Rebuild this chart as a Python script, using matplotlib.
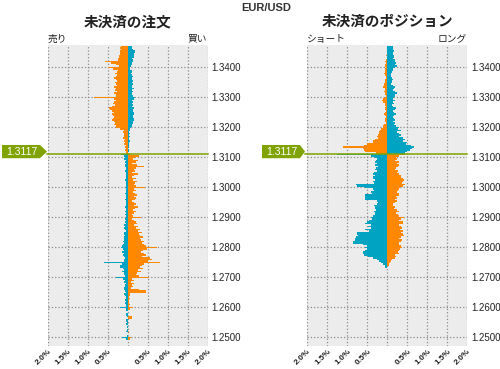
import numpy as np
import matplotlib.pyplot as plt
from matplotlib.patches import Polygon

plt.rcParams['font.family'] = ['Liberation Sans', 'Noto Sans CJK JP']

# order book, % per 0.0005 bucket, listed top -> bottom
# "hi" = buckets above the current price line, "lo" = below it
ord_orange_hi = [0.17, 0.18, 0.17, 0.19, 0.20, 0.18, 0.22, 0.21, 0.24, 0.23,
                 0.57, 0.42, 0.30, 0.22, 0.48, 0.36, 0.25, 0.27, 0.31, 0.26,
                 0.30, 0.33, 0.28, 0.26, 0.32, 0.30, 0.27, 0.35, 0.29, 0.31,
                 0.27, 0.33, 0.30, 0.28, 0.84, 0.35, 0.30, 0.33, 0.36, 0.31,
                 0.38, 0.46, 0.44, 0.38, 0.35, 0.40, 0.37, 0.33, 0.36, 0.39,
                 0.34, 0.31, 0.33, 0.30, 0.29, 0.18, 0.10, 0.11, 0.09, 0.10,
                 0.08, 0.11, 0.07, 0.09, 0.06, 0.08, 0.05, 0.07, 0.04, 0.06,
                 0.05, 0.03]
ord_teal_hi = [0.10, 0.12, 0.14, 0.18, 0.19, 0.17, 0.15, 0.16, 0.12, 0.14,
               0.13, 0.11, 0.10, 0.08, 0.05, 0.06, 0.10, 0.12, 0.09, 0.11,
               0.13, 0.10, 0.12, 0.14, 0.11, 0.13, 0.10, 0.12, 0.15, 0.11,
               0.13, 0.12, 0.10, 0.14, 0.19, 0.16, 0.12, 0.13, 0.11, 0.14,
               0.12, 0.15, 0.13, 0.14, 0.16, 0.15, 0.13, 0.14, 0.16, 0.15,
               0.14, 0.13, 0.12, 0.10, 0.08, 0.06, 0.05, 0.04, 0.05, 0.04,
               0.05, 0.03, 0.04, 0.05, 0.03, 0.04, 0.03, 0.04, 0.02, 0.03,
               0.03, 0.02]
ord_orange_lo = [0.05, 0.29, 0.18, 0.14, 0.25, 0.20, 0.12, 0.24,
                 0.40, 0.22, 0.15, 0.19, 0.12, 0.26, 0.17, 0.10,
                 0.20, 0.14, 0.23, 0.18, 0.16, 0.21, 0.44, 0.15,
                 0.20, 0.13, 0.18, 0.24, 0.16, 0.22, 0.19, 0.12,
                 0.17, 0.21, 0.15, 0.25, 0.18, 0.14, 0.20, 0.16,
                 0.10, 0.13, 0.33, 0.12, 0.15, 0.20, 0.24, 0.17,
                 0.27, 0.22, 0.30, 0.25, 0.36, 0.28, 0.32, 0.38,
                 0.30, 0.34, 0.42, 0.36, 0.40, 0.45, 0.73, 0.48,
                 0.38, 0.33, 0.40, 0.45, 0.36, 0.55, 0.62, 0.50,
                 0.81, 0.42, 0.36, 0.30, 0.38, 0.27, 0.33, 0.24,
                 0.20, 0.28, 0.54, 0.12, 0.15, 0.09, 0.17, 0.11,
                 0.13, 0.08, 0.28, 0.46, 0.45, 0.06, 0.05, 0.04,
                 0.05, 0.03, 0.04, 0.03, 0.05, 0.03, 0.13, 0.06,
                 0.00, 0.00, 0.00, 0.00, 0.11, 0.10, 0.00, 0.02,
                 0.00, 0.01, 0.00, 0.00, 0.00, 0.02, 0.04, 0.00,
                 0.00, 0.02, 0.09, 0.06, 0.00, 0.00, 0.00, 0.00]
ord_teal_lo = [0.16, 0.10, 0.06, 0.08, 0.05, 0.07, 0.04, 0.06,
               0.07, 0.05, 0.04, 0.06, 0.05, 0.03, 0.04, 0.05,
               0.04, 0.06, 0.05, 0.03, 0.04, 0.05, 0.06, 0.04,
               0.05, 0.04, 0.06, 0.03, 0.05, 0.04, 0.06, 0.05,
               0.04, 0.05, 0.03, 0.06, 0.04, 0.05, 0.07, 0.05,
               0.06, 0.04, 0.05, 0.07, 0.04, 0.06, 0.05, 0.08,
               0.06, 0.09, 0.07, 0.05, 0.08, 0.10, 0.07, 0.09,
               0.10, 0.08, 0.12, 0.09, 0.11, 0.14, 0.17, 0.12,
               0.10, 0.13, 0.08, 0.11, 0.09, 0.07, 0.10, 0.08,
               0.59, 0.15, 0.20, 0.18, 0.12, 0.10, 0.13, 0.08,
               0.10, 0.07, 0.30, 0.12, 0.06, 0.08, 0.05, 0.07,
               0.06, 0.08, 0.10, 0.07, 0.05, 0.09, 0.06, 0.04,
               0.05, 0.07, 0.04, 0.06, 0.05, 0.04, 0.19, 0.05,
               0.03, 0.00, 0.03, 0.03, 0.02, 0.00, 0.03, 0.03,
               0.02, 0.03, 0.00, 0.02, 0.00, 0.02, 0.03, 0.00,
               0.00, 0.02, 0.14, 0.05, 0.00, 0.00, 0.00, 0.00]

# open positions
pos_orange_hi = [0.00, 0.00, 0.00, 0.00, 0.00, 0.00, 0.04, 0.00,
                 0.02, 0.03, 0.05, 0.04, 0.06, 0.05, 0.04, 0.06,
                 0.07, 0.06, 0.08, 0.05, 0.04, 0.03, 0.06, 0.05,
                 0.07, 0.08, 0.09, 0.10, 0.07, 0.06, 0.08, 0.05,
                 0.06, 0.04, 0.07, 0.12, 0.14, 0.11, 0.06, 0.05,
                 0.04, 0.06, 0.05, 0.03, 0.07, 0.08, 0.06, 0.04,
                 0.05, 0.07, 0.06, 0.04, 0.08, 0.10, 0.12, 0.15,
                 0.19, 0.22, 0.20, 0.24, 0.27, 0.23, 0.30, 0.36,
                 0.36, 0.50, 0.58, 1.10, 0.62, 0.58, 0.55, 0.28]
pos_teal_hi = [0.14, 0.15, 0.13, 0.16, 0.15, 0.14, 0.17, 0.16,
               0.15, 0.18, 0.19, 0.21, 0.20, 0.23, 0.18, 0.14,
               0.13, 0.11, 0.09, 0.08, 0.10, 0.12, 0.14, 0.11,
               0.12, 0.10, 0.15, 0.20, 0.17, 0.14, 0.18, 0.23,
               0.20, 0.18, 0.16, 0.15, 0.19, 0.14, 0.17, 0.12,
               0.15, 0.22, 0.18, 0.13, 0.16, 0.21, 0.17, 0.14,
               0.16, 0.19, 0.15, 0.20, 0.17, 0.22, 0.30, 0.26,
               0.33, 0.25, 0.28, 0.35, 0.30, 0.38, 0.44, 0.40,
               0.50, 0.46, 0.58, 0.67, 0.62, 0.56, 0.50, 0.45]
pos_orange_lo = [0.44, 0.30, 0.22, 0.25, 0.20, 0.28, 0.24, 0.30,
                 0.26, 0.22, 0.20, 0.27, 0.25, 0.30, 0.33, 0.35,
                 0.40, 0.42, 0.38, 0.36, 0.43, 0.38, 0.32, 0.28,
                 0.27, 0.25, 0.30, 0.28, 0.22, 0.25, 0.20, 0.24,
                 0.18, 0.15, 0.13, 0.20, 0.17, 0.25, 0.28, 0.22,
                 0.26, 0.30, 0.41, 0.35, 0.30, 0.40, 0.38, 0.28,
                 0.33, 0.37, 0.32, 0.40, 0.35, 0.38, 0.42, 0.34,
                 0.30, 0.36, 0.33, 0.30, 0.28, 0.35, 0.37, 0.32,
                 0.29, 0.26, 0.30, 0.20, 0.22, 0.18, 0.12, 0.10,
                 0.06, 0.05, 0.03, 0.00, 0.00, 0.00, 0.00, 0.00]
pos_teal_lo = [1.25, 0.40, 0.30, 0.25, 0.28, 0.32, 0.27, 0.30,
               0.23, 0.28, 0.31, 0.26, 0.33, 0.35, 0.30, 0.36,
               0.35, 0.32, 0.36, 0.33, 0.79, 0.77, 0.55, 0.36,
               0.33, 0.40, 0.38, 0.57, 0.56, 0.57, 0.55, 0.27,
               0.23, 0.25, 0.33, 0.30, 0.31, 0.28, 0.34, 0.30,
               0.32, 0.35, 0.42, 0.38, 0.45, 0.50, 0.55, 0.40,
               0.48, 0.42, 0.55, 0.46, 0.76, 0.77, 0.74, 0.79,
               0.80, 0.82, 0.85, 0.87, 0.62, 0.50, 0.55, 0.52,
               0.57, 0.60, 0.60, 0.58, 0.48, 0.35, 0.25, 0.20,
               0.15, 0.10, 0.06, 0.05, 0.00, 0.00, 0.00, 0.00]

price_ticks = [1.25, 1.26, 1.27, 1.28, 1.29, 1.30, 1.31, 1.32, 1.33, 1.34]
pct_ticks = [-2.0, -1.5, -1.0, -0.5, 0.0, 0.5, 1.0, 1.5, 2.0]
pct_labels = ['2.0%', '1.5%', '1.0%', '0.5%', '', '0.5%', '1.0%', '1.5%', '2.0%']

step = 0.0005
line_price = 1.3110
last_price = 1.3117

orange = '#ff8800'
teal = '#00a3c2'
green = '#7fa300'
txt = '#222222'

fig = plt.figure(figsize=(5, 3.69), dpi=100)
fig.text(0.532, 1 - 8 / 369, 'EUR/USD', ha='center', va='center',
         fontsize=8, weight='bold', color='#333333')


def panel(left, title, lab_l, lab_r, or_hi, te_hi, or_lo, te_lo, box_x):
    ax = fig.add_axes([left, 0.0631, 0.32, 0.8157])
    ax.set_facecolor('#ececec')
    hi = line_price + step * np.arange(len(or_hi))[::-1]
    lo = line_price - step * np.arange(1, len(or_lo) + 1)
    kw = dict(height=step, align='edge', lw=0, antialiased=False)
    ax.barh(hi, -np.array(or_hi), color=orange, **kw)
    ax.barh(hi, te_hi, color=teal, **kw)
    ax.barh(lo, or_lo, color=orange, **kw)
    ax.barh(lo, -np.array(te_lo), color=teal, **kw)

    ax.set_xlim(-2, 2)
    ax.set_ylim(1.24708, 1.34728)
    for s in ax.spines.values():
        s.set_visible(False)
    ax.set_axisbelow(True)
    ax.grid(True, ls=':', color='#8c8c8c', lw=0.9)

    ax.set_xticks(pct_ticks)
    ax.set_xticklabels(pct_labels, rotation=45, ha='right', va='top',
                       rotation_mode='anchor', fontsize=6, weight='bold',
                       color=txt)
    ax.yaxis.tick_right()
    ax.set_yticks(price_ticks)
    ax.set_yticklabels(['%.4f' % p for p in price_ticks], fontsize=7, color=txt)
    ax.tick_params(length=0)
    ax.tick_params(axis='x', pad=1.5)
    ax.tick_params(axis='y', pad=3)

    ax.text(0, 1.004, lab_l, transform=ax.transAxes, ha='left', va='bottom',
            fontsize=7, color=txt)
    ax.text(1, 1.004, lab_r, transform=ax.transAxes, ha='right', va='bottom',
            fontsize=7, color=txt)
    fig.text(left + 0.16, 1 - 21 / 369, title, ha='center', va='center',
             fontsize=10.5, weight='bold', color=txt, family='Noto Sans CJK JP')

    # current price line and marker
    tr = ax.get_yaxis_transform()
    x0, x1, tip = box_x
    h = 0.0022
    ax.plot([tip, 1], [line_price, line_price], color=green, lw=1.1,
            transform=tr, clip_on=False)
    ax.add_patch(Polygon([(x0, last_price - h), (x1, last_price - h),
                          (tip, last_price), (x1, last_price + h),
                          (x0, last_price + h)], closed=True, color=green,
                         transform=tr, clip_on=False, lw=0))
    ax.text((x0 + x1) / 2 + 0.005, last_price, '%.4f' % last_price, transform=tr,
            ha='center', va='center', color='white', fontsize=7.5)
    return ax


panel(0.095, '未決済の注文', '売り', '買い',
      ord_orange_hi, ord_teal_hi, ord_orange_lo, ord_teal_lo,
      (-0.284, -0.047, -0.003))
panel(0.6146, '未決済のポジション', 'ショート', 'ロング',
      pos_orange_hi, pos_teal_hi, pos_orange_lo, pos_teal_lo,
      (-0.283, -0.046, -0.014))

fig.savefig('out.png', dpi=100)
